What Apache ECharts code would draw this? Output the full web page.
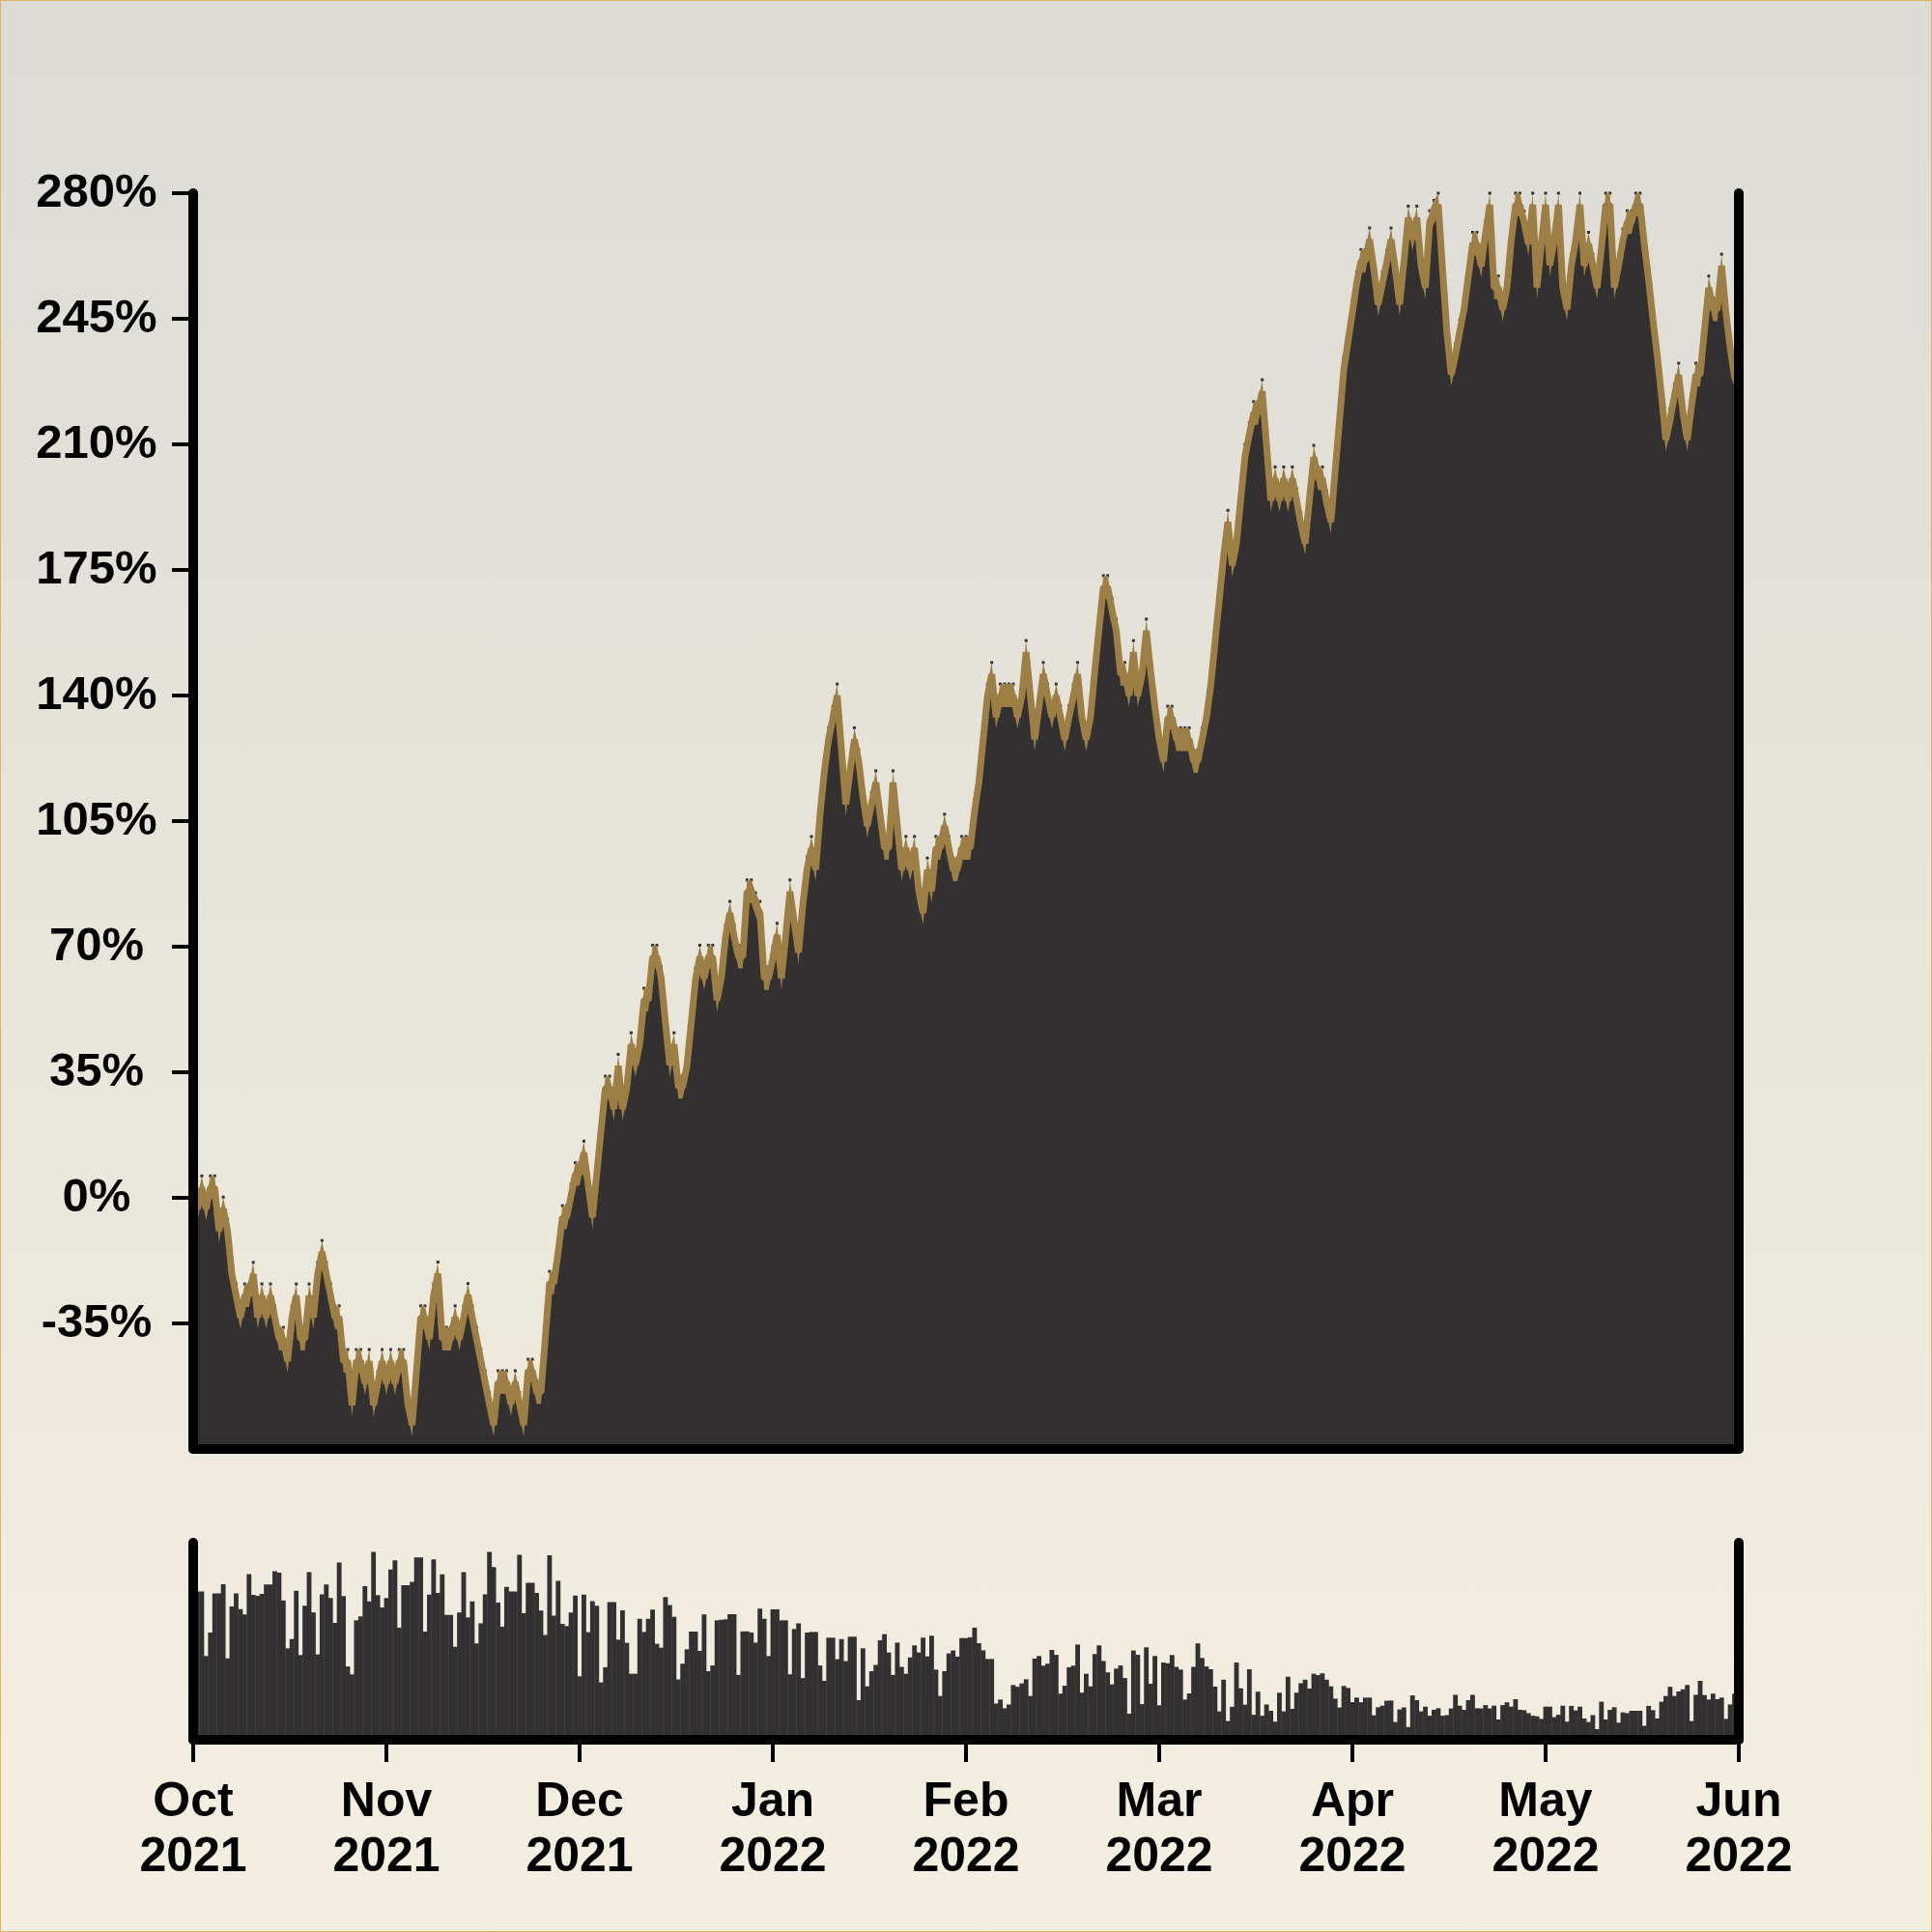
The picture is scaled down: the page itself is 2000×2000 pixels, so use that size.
<!DOCTYPE html>
<html>
<head>
<meta charset="utf-8">
<script src="https://cdn.jsdelivr.net/npm/echarts@6/dist/echarts.min.js"></script>
<style>
html,body{margin:0;padding:0;}
#c{width:2000px;height:2000px;background:linear-gradient(#DCDBD6,#F4EFE0);box-shadow:inset 0 0 0 1px #D9B760;}
</style>
</head>
<body>
<div id="c"></div>
<script>
// month tick labels (8 equal divisions of the x range)
const tickLabels = ['Oct\n2021','Nov\n2021','Dec\n2021','Jan\n2022','Feb\n2022','Mar\n2022','Apr\n2022','May\n2022','Jun\n2022'];
// y-axis tick values (percent)
const yTicks = [-35, 0, 35, 70, 105, 140, 175, 210, 245, 280];
// cumulative return (%) – top edge of the band, one value per sample
const returns = [
0.2,0.2,6.1,0.2,6.1,6.1,-6.0,0.2,-6.0,-18.0,
-24.0,-30.1,-24.0,-24.0,-18.0,-30.1,-24.0,-30.1,-24.0,-30.1,
-36.1,-36.1,-42.3,-30.1,-24.0,-36.1,-36.1,-24.0,-30.1,-18.0,
-11.9,-18.0,-24.0,-30.1,-30.1,-42.3,-42.3,-54.6,-42.3,-42.3,
-48.5,-42.3,-54.6,-48.5,-42.3,-48.5,-42.3,-48.5,-42.3,-42.3,
-54.3,-60.1,-45.0,-30.1,-30.1,-36.1,-24.0,-17.9,-36.1,-36.1,
-36.1,-30.1,-36.1,-30.1,-23.9,-30.1,-36.1,-42.2,-48.2,-54.3,
-60.1,-48.2,-48.2,-48.2,-54.3,-48.2,-54.3,-60.1,-45.0,-45.0,
-51.0,-51.0,-36.0,-20.5,-20.5,-12.0,-2.2,-2.2,3.8,9.8,
9.8,15.8,6.8,-2.2,10.0,22.0,33.9,33.9,28.0,40.0,
28.0,34.0,46.0,40.2,46.0,58.4,58.4,70.4,70.4,64.4,
52.0,40.2,46.0,34.1,34.1,40.0,52.0,64.0,70.4,64.4,
70.4,70.4,58.3,64.4,76.0,82.6,76.0,70.4,70.4,88.6,
88.6,85.0,82.6,64.4,64.4,70.0,76.5,64.4,76.0,88.6,
80.0,71.6,85.0,95.0,100.7,94.7,110.0,122.0,131.0,137.0,
143.2,128.0,112.9,122.0,131.0,124.9,115.0,106.9,113.0,119.0,
110.0,100.7,100.7,119.0,106.9,94.7,100.7,94.7,100.7,88.7,
82.6,94.7,88.7,100.7,100.7,106.9,100.7,94.7,94.7,100.7,
100.7,100.7,111.0,119.0,131.0,143.0,149.2,137.2,143.2,143.2,
143.2,143.2,137.2,143.0,155.3,143.0,131.0,140.0,149.2,143.2,
137.2,143.2,137.2,131.0,137.2,143.0,149.2,137.0,131.0,137.2,
150.0,162.0,173.4,173.4,167.0,161.3,149.2,149.2,143.2,155.3,
143.2,149.0,161.3,150.0,140.0,131.0,124.9,137.0,137.0,131.0,
131.0,131.0,131.0,124.9,124.9,131.0,137.0,146.0,158.0,170.0,
182.0,191.6,179.5,185.6,198.0,210.0,216.0,221.9,221.9,228.0,
213.0,197.6,203.7,197.6,203.7,197.6,203.7,197.6,191.0,185.6,
198.0,209.7,203.7,203.7,197.0,191.6,206.0,220.0,234.1,242.0,
250.0,258.1,264.3,264.3,270.3,262.0,252.2,258.1,264.0,270.3,
262.0,252.2,264.0,276.4,270.4,276.4,262.9,256.9,275.1,278.0,
280.0,262.0,244.7,232.7,238.0,244.7,250.8,260.0,269.1,269.1,
262.9,272.0,280.0,256.9,256.9,250.8,256.9,270.0,280.0,280.0,
275.0,269.1,280.0,256.9,269.0,280.0,263.2,270.0,280.0,256.9,
250.9,263.0,270.0,280.0,263.0,269.1,263.0,256.9,268.0,280.0,
280.0,256.9,263.0,270.0,275.1,275.1,280.0,280.0,269.0,259.0,
248.0,238.0,226.7,214.5,220.0,226.7,232.6,222.0,214.5,224.0,
232.6,232.6,245.0,256.9,250.8,250.8,263.0,250.0,240.0,232.0,
229.0];
// traded volume (relative units, 0–100 scale), Oct–Jan part
const volumeOctJan = [
75.3,75.3,75.3,42.5,54.4,74.3,74.3,78.9,41.3,67.6,
74.3,66.3,63.6,84.1,73.5,73.0,74.0,78.8,78.8,85.6,
84.8,70.7,46.4,51.1,75.6,43.0,68.0,85.1,64.6,43.3,
73.8,78.8,71.9,59.3,89.9,72.9,37.2,33.2,60.6,62.6,
78.0,70.2,95.4,73.4,67.2,71.9,86.4,91.0,56.9,78.4,
78.4,80.2,92.5,92.5,54.9,73.7,91.5,74.5,84.0,63.3,
63.3,47.2,64.6,85.1,62.1,70.2,48.9,59.1,73.8,95.4,
87.6,69.6,57.4,77.6,75.3,75.3,93.9,64.2,79.7,79.7,
74.5,65.6,53.2,93.6,63.0,80.6,58.8,57.7,64.6,73.2,
32.2,73.7,54.6,70.4,68.0,29.1,36.8,69.8,69.8,50.8,
65.7,49.2,33.5,33.5,61.4,54.7,61.4,66.0,48.7,46.7,
72.4,68.4,62.4,30.6,38.6,45.9,54.9,54.9,45.1,63.6,
34.8,37.7,60.6,60.9,61.1,63.7,63.7,32.9,55.0,55.0,
54.4,49.3,66.5,61.4,42.5,66.2,66.2,60.6,60.6,33.2,
56.2,59.1,31.3,54.4,54.7,54.7,37.7,29.9,51.8,51.8,
40.9,51.1,39.9,52.3,52.3,20.1,46.4,27.1,34.8,38.0,
50.5,53.6,44.3,32.9,49.3,37.0,33.5,41.8,47.9,44.3,
51.8,42.3,52.8,35.6,22.2,34.8,43.8,45.3,42.2,51.6,
51.6];
// traded volume, Feb–Jun part
const volumeFebJun = [
52.0,56.9,49.0,45.4,41.0,41.0,18.4,20.4,16.0,17.9,
27.8,26.9,28.6,30.7,22.2,41.2,42.5,37.6,38.6,45.6,
43.1,23.4,27.4,36.8,37.6,48.3,23.9,33.5,27.1,43.5,
47.9,40.0,34.2,28.1,36.1,37.7,31.3,13.2,45.3,43.1,
18.1,46.9,28.4,42.5,17.5,39.2,38.8,43.0,37.0,35.6,
20.4,23.5,37.0,48.9,41.5,37.2,35.8,27.0,14.4,30.5,
9.5,16.7,39.2,26.1,17.8,35.8,12.7,24.4,12.2,17.9,
14.7,9.2,23.9,14.4,32.0,15.7,23.9,28.7,30.5,26.0,
33.5,32.8,33.7,30.5,27.1,20.9,16.4,27.3,26.3,19.1,
21.4,19.0,21.4,21.4,12.4,16.5,17.3,19.8,19.9,9.0,
15.4,16.4,6.5,22.5,20.1,14.4,16.8,12.2,15.2,16.0,
12.2,12.5,15.9,22.8,17.3,15.2,20.1,22.8,16.0,15.9,
17.6,15.9,17.3,10.3,17.6,19.0,16.8,20.6,15.2,15.0,
13.5,12.2,11.9,10.6,16.8,16.8,11.5,12.7,17.3,9.2,
17.2,14.9,16.8,10.8,9.0,12.5,5.4,19.3,10.3,15.2,
16.5,8.7,13.9,13.5,14.7,14.7,14.7,7.1,17.2,15.0,
10.8,19.3,22.2,26.9,22.2,24.5,25.6,27.8,9.5,22.8,
29.9,22.7,20.4,23.4,20.6,21.4,10.6,17.9,23.4,23.1];

const volume = volumeOctJan.concat(volumeFebJun);
const BAND = 6.45;          // vertical thickness of the gold band, in %
const DARK = '#323031';
const GOLD = '#9D7E44';
const N = returns.length;
const step = (N - 1) / 8;

const chart = echarts.init(document.getElementById('c'), null, {renderer:'canvas', width:2000, height:2000});
const axisLineStyle = {color:'#000', width:10, cap:'round'};
const FONT = "'Liberation Sans', Arial, sans-serif";

chart.setOption({
  backgroundColor:'transparent',
  animation:false,
  grid:[
    {left:200, right:200, top:200, height:1300},
    {left:200, right:200, top:1597, height:204}
  ],
  xAxis:[
    {gridIndex:0, type:'value', min:0, max:N-1, interval:step, z:5,
     axisLine:{show:true, onZero:false, lineStyle:axisLineStyle},
     axisTick:{show:false}, axisLabel:{show:false}, splitLine:{show:false}},
    {gridIndex:1, type:'value', min:0, max:N-1, interval:step, z:5,
     axisLine:{show:true, onZero:false, lineStyle:axisLineStyle},
     axisTick:{show:true, length:23, lineStyle:{color:'#000', width:4}},
     axisLabel:{show:true, fontSize:50, lineHeight:57, margin:37, fontWeight:'bold', color:'#000', fontFamily:FONT,
       formatter:(v)=>tickLabels[Math.round(v/step)] || ''},
     splitLine:{show:false}}
  ],
  yAxis:[
    {gridIndex:0, type:'value', position:'left', min:-70, max:280, interval:35, z:5,
     axisLine:{show:true, onZero:false, lineStyle:axisLineStyle},
     axisTick:{show:true, length:22, customValues:yTicks, lineStyle:{color:'#000', width:4}},
     axisLabel:{show:true, customValues:yTicks, formatter:'{value}%', align:'center', margin:100,
       fontSize:49, fontWeight:'bold', color:'#000', fontFamily:FONT},
     splitLine:{show:false}},
    {gridIndex:0, type:'value', position:'right', min:-70, max:280, interval:35, z:5,
     axisLine:{show:true, onZero:false, lineStyle:axisLineStyle},
     axisTick:{show:false}, axisLabel:{show:false}, splitLine:{show:false}},
    {gridIndex:1, type:'value', position:'left', min:0, max:100, z:5,
     axisLine:{show:true, onZero:false, lineStyle:axisLineStyle},
     axisTick:{show:false}, axisLabel:{show:false}, splitLine:{show:false}},
    {gridIndex:1, type:'value', position:'right', min:0, max:100, z:5,
     axisLine:{show:true, onZero:false, lineStyle:axisLineStyle},
     axisTick:{show:false}, axisLabel:{show:false}, splitLine:{show:false}}
  ],
  series:[
    {type:'bar', xAxisIndex:1, yAxisIndex:2, data:volume.map((v,i)=>[i,v]),
     barWidth:1600/(N-1)+0.4, clip:true, itemStyle:{color:DARK}, z:2, silent:true},
    // small dark marks at the sample points (visible only where they poke above the band)
    {type:'line', xAxisIndex:0, yAxisIndex:0, data:returns.map((v,i)=>[i,v]),
     lineStyle:{width:0, opacity:0}, symbol:'rect', symbolSize:[3,3], showAllSymbol:true,
     itemStyle:{color:DARK}, z:1, silent:true},
    // gold fill under the top edge
    {type:'line', xAxisIndex:0, yAxisIndex:0, data:returns.map((v,i)=>[i,v]),
     showSymbol:false, lineStyle:{width:0}, areaStyle:{color:GOLD, opacity:1, origin:'start'}, z:2, silent:true},
    // dark fill, one band-thickness lower
    {type:'line', xAxisIndex:0, yAxisIndex:0, data:returns.map((v,i)=>[i,v-BAND]),
     showSymbol:false, lineStyle:{width:0}, areaStyle:{color:DARK, opacity:1, origin:'start'}, z:3, silent:true},
    // gold stroke along the middle of the band (keeps the band thick on steep slopes)
    {type:'line', xAxisIndex:0, yAxisIndex:0, data:returns.map((v,i)=>[i,v-BAND/2]),
     showSymbol:false, lineStyle:{width:7, color:GOLD, join:'bevel', cap:'butt'}, z:4, silent:true}
  ]
});
</script>
</body>
</html>
